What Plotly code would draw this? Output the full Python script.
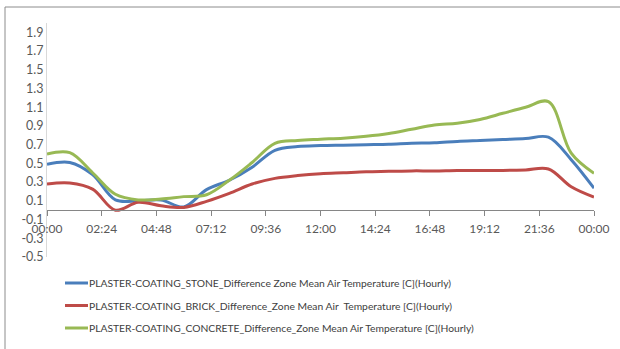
import plotly.graph_objects as go

# Hourly time stamps (hours from midnight) and axis labels
hours = list(range(25))
x_tick_vals = [0, 2.4, 4.8, 7.2, 9.6, 12, 14.4, 16.8, 19.2, 21.6, 24]
x_tick_text = ["00:00", "02:24", "04:48", "07:12", "09:36", "12:00",
               "14:24", "16:48", "19:12", "21:36", "00:00"]
y_tick_vals = [-0.5, -0.3, -0.1, 0.1, 0.3, 0.5, 0.7, 0.9, 1.1, 1.3, 1.5, 1.7, 1.9]
y_grid_vals = [-0.5, -0.3, 0.1, 0.3, 0.5, 0.7, 0.9, 1.1, 1.3, 1.5, 1.7, 1.9]

# Temperature differences [C]
stone = [0.49, 0.51, 0.38, 0.11, 0.10, 0.11, 0.035, 0.22, 0.32, 0.46, 0.64, 0.68, 0.69,
         0.695, 0.70, 0.705, 0.715, 0.72, 0.735, 0.745, 0.755, 0.765, 0.78, 0.54, 0.235]
brick = [0.28, 0.29, 0.225, 0.0, 0.085, 0.047, 0.03, 0.095, 0.18, 0.28, 0.34, 0.37, 0.39,
         0.40, 0.41, 0.415, 0.42, 0.42, 0.425, 0.425, 0.425, 0.43, 0.44, 0.25, 0.14]
concrete = [0.60, 0.615, 0.40, 0.17, 0.11, 0.12, 0.145, 0.165, 0.32, 0.51, 0.715, 0.745, 0.758,
            0.77, 0.79, 0.82, 0.865, 0.91, 0.93, 0.97, 1.035, 1.10, 1.16, 0.61, 0.395]

names = [
    "PLASTER-COATING_STONE_Difference Zone Mean Air Temperature [C](Hourly)",
    "PLASTER-COATING_BRICK_Difference_Zone Mean Air  Temperature [C](Hourly)",
    "PLASTER-COATING_CONCRETE_Difference_Zone Mean Air Temperature [C](Hourly)",
]
colors = ["#4A7EBB", "#BE4B48", "#98B954"]

FONT = "Lato, Liberation Sans, sans-serif"

# plot-area geometry in pixels (used to place the key below the chart)
L, R, T, B, W, H = 47, 26, 23, 92, 620, 349
PW, PH = W - L - R, H - T - B


def px_x(p):
    return (p - L) / PW


def px_y(p):
    return (H - B - p) / PH


fig = go.Figure()
shapes = []
annotations = []
key_rows = [283, 305.5, 328]
for series, name, color, row in zip([stone, brick, concrete], names, colors, key_rows):
    fig.add_trace(go.Scatter(
        x=hours, y=series, name=name, mode="lines",
        line=dict(color=color, width=3, shape="spline", smoothing=1.0),
        xaxis="x", yaxis="y2", showlegend=False,
    ))
    # key entry: line sample + series name
    shapes.append(dict(
        type="line", xref="paper", yref="paper",
        x0=px_x(65), x1=px_x(88), y0=px_y(row), y1=px_y(row),
        line=dict(color=color, width=3),
    ))
    annotations.append(dict(
        text=name, xref="paper", yref="paper", x=px_x(86.5), y=px_y(row),
        xanchor="left", yanchor="middle", showarrow=False,
        font=dict(family=FONT, size=10.3, color="#404040"),
    ))

# chart-area border
shapes.append(dict(
    type="rect", xref="paper", yref="paper",
    x0=px_x(5), x1=px_x(640), y0=px_y(370), y1=px_y(7),
    line=dict(color="#8c8c8c", width=1), fillcolor="rgba(0,0,0,0)",
    layer="below",
))

fig.update_layout(
    width=W, height=H,
    margin=dict(l=L, r=R, t=T, b=B),
    paper_bgcolor="white", plot_bgcolor="white",
    font=dict(family=FONT, size=12, color="#595959"),
    showlegend=False,
    xaxis=dict(
        range=[0, 24], tickvals=x_tick_vals, ticktext=x_tick_text,
        anchor="free", position=0.2,
        showgrid=False, zeroline=False,
        showline=True, linecolor="#868686", linewidth=1,
        ticks="outside", ticklen=5, tickcolor="#868686",
        ticklabelstandoff=2,
        tickfont=dict(family=FONT, size=12, color="#595959"),
    ),
    # base axis carries the horizontal gridlines
    yaxis=dict(
        range=[-0.5, 2.0], tickvals=y_grid_vals, showticklabels=False,
        showgrid=True, gridcolor="#c8c8c8", gridwidth=1, zeroline=False,
        showline=False, ticks="",
    ),
    # overlay axis carries the tick labels and the data
    yaxis2=dict(
        range=[-0.5, 2.0], tickvals=y_tick_vals,
        ticktext=[f"{v:.1f}" for v in y_tick_vals],
        overlaying="y", side="left", showgrid=False, zeroline=False,
        showline=True, linecolor="#d9d9d9", linewidth=1, ticks="",
        tickfont=dict(family=FONT, size=12.5, color="#595959"),
    ),
    shapes=shapes,
    annotations=annotations,
)

fig.write_html("out.html")
